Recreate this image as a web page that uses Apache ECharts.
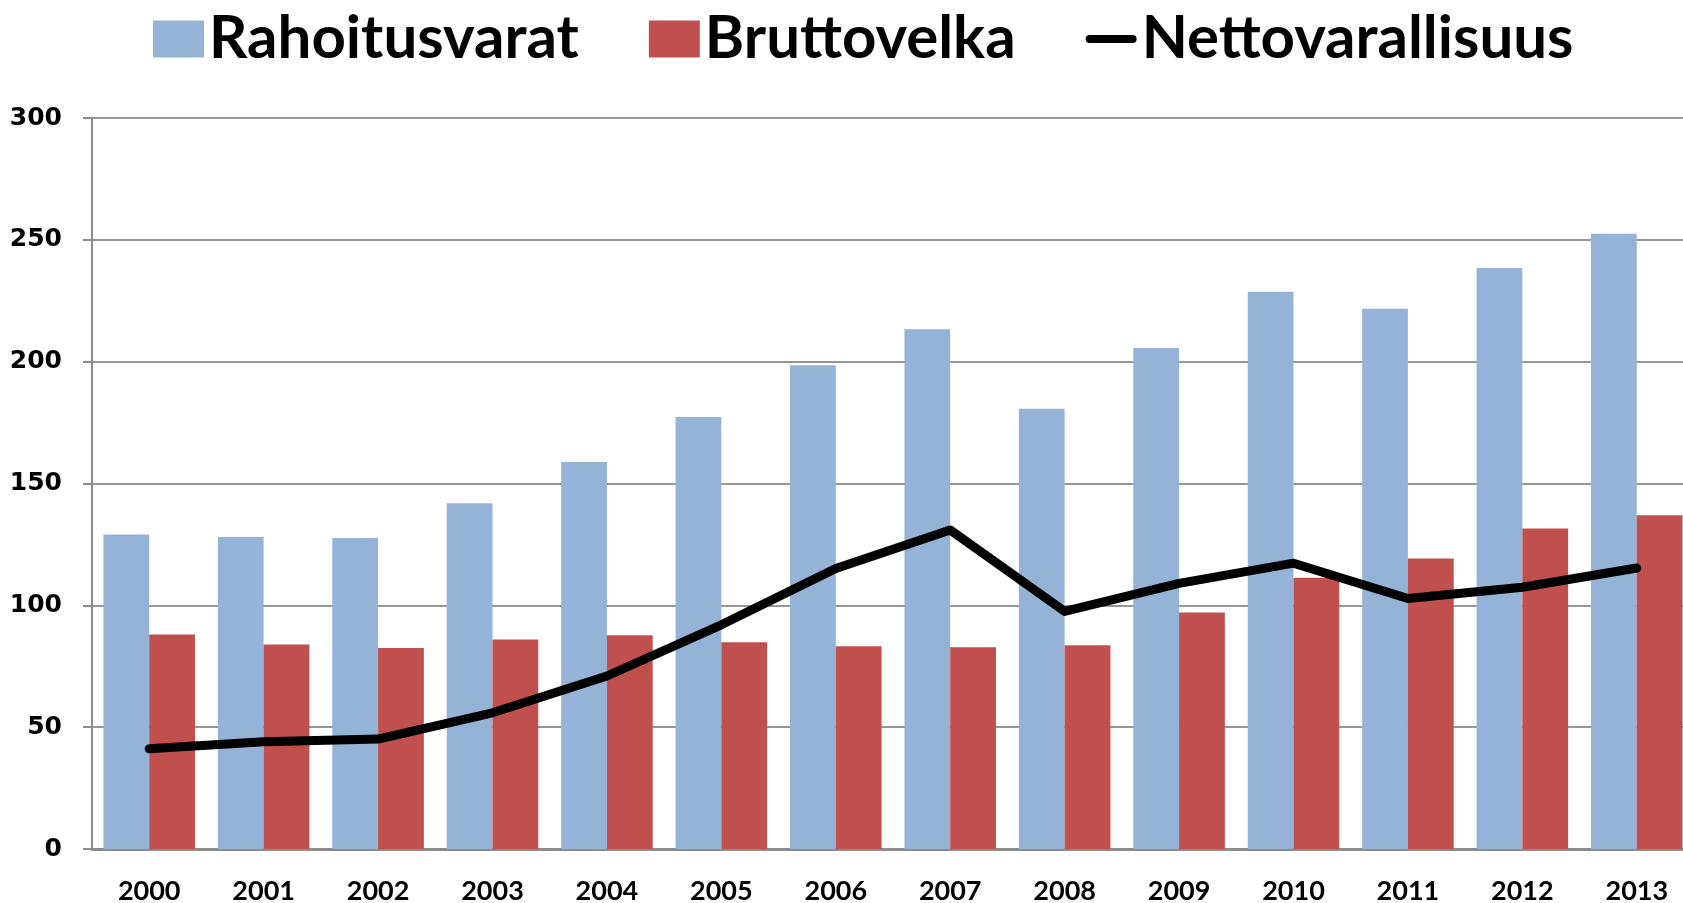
<!DOCTYPE html>
<html>
<head>
<meta charset="utf-8">
<script src="https://cdn.jsdelivr.net/npm/echarts@6/dist/echarts.min.js"></script>
<style>
html,body{margin:0;padding:0;background:#fff;}
#c{width:1683px;height:903px;}
</style>
</head>
<body>
<div id="c"></div>
<script>
const years = ['2000','2001','2002','2003','2004','2005','2006','2007','2008','2009','2010','2011','2012','2013'];
const rahoitusvarat = [129.1, 128.0, 127.6, 141.9, 158.8, 177.3, 198.5, 213.3, 180.7, 205.6, 228.7, 221.7, 238.4, 252.5];
const bruttovelka   = [88.0, 83.9, 82.5, 86.0, 87.7, 84.9, 83.2, 82.8, 83.6, 97.1, 111.3, 119.2, 131.5, 137.0];
const nettovarallisuus = [41.1, 44.0, 45.1, 55.9, 71.0, 92.0, 115.1, 130.9, 97.5, 109.0, 117.3, 102.8, 107.4, 115.3];
const yTicks = [0, 50, 100, 150, 200, 250, 300];

const chart = echarts.init(document.getElementById('c'), null, {renderer: 'canvas'});
chart.setOption({
  animation: false,
  backgroundColor: '#ffffff',
  legend: {
    left: 148,
    top: 4,
    itemWidth: 51,
    itemHeight: 37,
    itemGap: 70,
    selectedMode: false,
    textStyle: {fontFamily: 'Lato', fontWeight: 'bold', fontSize: 60, color: '#000'},
    data: [
      {name: 'Rahoitusvarat', icon: 'rect'},
      {name: 'Bruttovelka', icon: 'rect'},
      {name: 'Nettovarallisuus', icon: 'path://M0,0 M56,37 M4.5,14 L51.5,14 A4.5,4.5 0 0 1 51.5,23 L4.5,23 A4.5,4.5 0 0 1 4.5,14 Z', itemStyle: {color: '#000'}}
    ]
  },
  grid: {left: 92, top: 118, width: 1602, bottom: 54, containLabel: false, outerBoundsMode: 'none'},
  xAxis: {
    type: 'category',
    data: years,
    axisLine: {show: true, lineStyle: {color: '#8c8c8c', width: 3}},
    axisTick: {show: false},
    axisLabel: {margin: 29, fontFamily: 'Lato', fontWeight: 'bold', fontSize: 27, color: '#000'},
    splitLine: {show: false}
  },
  yAxis: {
    type: 'value',
    min: yTicks[0],
    max: yTicks[yTicks.length - 1],
    interval: 50,
    axisLine: {show: true, lineStyle: {color: '#8c8c8c', width: 2}},
    axisTick: {show: true, inside: false, length: 9, lineStyle: {color: '#8c8c8c', width: 2}},
    axisLabel: {margin: 30, fontFamily: 'DejaVu Sans', fontWeight: 'bold', fontSize: 25, color: '#000'},
    splitLine: {show: true, lineStyle: {color: '#969696', width: 2}}
  },
  series: [
    {
      name: 'Rahoitusvarat', type: 'bar', data: rahoitusvarat,
      barGap: '0%', barCategoryGap: '20%',
      itemStyle: {color: '#95B3D7'}
    },
    {
      name: 'Bruttovelka', type: 'bar', data: bruttovelka,
      barGap: '0%', barCategoryGap: '20%',
      itemStyle: {color: '#C0504D'}
    },
    {
      name: 'Nettovarallisuus', type: 'line', data: nettovarallisuus,
      symbol: 'none', z: 5,
      lineStyle: {color: '#000', width: 9, cap: 'round', join: 'round'},
      itemStyle: {color: '#000'}
    }
  ]
});
</script>
</body>
</html>
